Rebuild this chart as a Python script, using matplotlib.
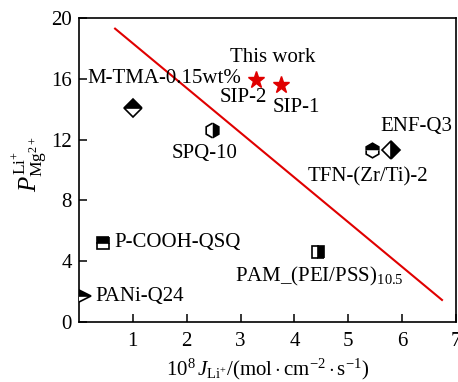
import matplotlib
matplotlib.use("Agg")
import matplotlib.pyplot as plt

plt.rcParams['font.family'] = ['Liberation Serif', 'DejaVu Serif']
plt.rcParams['mathtext.fontset'] = 'custom'
plt.rcParams['mathtext.rm'] = 'Liberation Serif'
plt.rcParams['mathtext.it'] = 'Liberation Serif:italic'
plt.rcParams['mathtext.bf'] = 'Liberation Serif:bold'

# Membranes: Li+ flux (1e-8 mol cm^-2 s^-1) vs Li+/Mg2+ selectivity
names = ['M-TMA-0.15wt%', 'SPQ-10', 'TFN-(Zr/Ti)-2', 'ENF-Q3',
         'P-COOH-QSQ', 'PAM_(PEI/PSS)10.5', 'PANi-Q24']
flux = [1.0, 2.47, 5.44, 5.8, 0.45, 4.44, 0.05]
selectivity = [14.1, 12.6, 11.3, 11.3, 5.2, 4.6, 1.7]
markers = ['D', 'h', 'h', 'D', 's', 's', '>']
fills = ['top', 'right', 'top', 'right', 'top', 'right', 'top']
sizes = [9, 10.5, 10.5, 9, 9, 9, 13]

# This work
work_names = ['SIP-2', 'SIP-1']
work_flux = [3.28, 3.75]
work_sel = [15.9, 15.6]

# Upper-bound trade-off line
bound_x = [0.67, 6.74]
bound_y = [19.3, 1.45]

x_ticks = [1, 2, 3, 4, 5, 6, 7]
y_ticks = [0, 4, 8, 12, 16, 20]

fig = plt.figure(figsize=(4.58, 3.82), dpi=100)
ax = fig.add_axes([79 / 458, 1 - 322 / 382, 377 / 458, 304 / 382])

ax.plot(bound_x, bound_y, color='#e00000', lw=1.5, zorder=2)

for x, y, m, f, s in zip(flux, selectivity, markers, fills, sizes):
    ax.plot(x, y, marker=m, ms=s, fillstyle=f, color='black',
            markerfacecoloralt='white', markeredgecolor='black',
            mew=1.2, ls='none', zorder=3)

ax.plot(work_flux, work_sel, marker='*', ms=12.5, color='#e00000',
        mec='#e00000', ls='none', zorder=3)

fs = 15
ax.text(0.15, 16.0, 'M-TMA-0.15wt%', fontsize=fs, ha='left', va='center')
ax.text(3.6, 17.4, 'This work', fontsize=fs, ha='center', va='center')
ax.text(3.05, 14.8, 'SIP-2', fontsize=fs, ha='center', va='center')
ax.text(4.03, 14.08, 'SIP-1', fontsize=fs, ha='center', va='center')
ax.text(2.34, 11.1, 'SPQ-10', fontsize=fs, ha='center', va='center')
ax.text(6.26, 12.83, 'ENF-Q3', fontsize=fs, ha='center', va='center')
ax.text(5.37, 9.54, 'TFN-(Zr/Ti)-2', fontsize=fs, ha='center', va='center')
ax.text(0.65, 5.26, 'P-COOH-QSQ', fontsize=fs, ha='left', va='center')
ax.text(2.9, 3.0, r'PAM_(PEI/PSS)$_{10.5}$', fontsize=fs, ha='left', va='center')
ax.text(0.3, 1.7, 'PANi-Q24', fontsize=fs, ha='left', va='center')

ax.set_xlim(0, 7)
ax.set_ylim(0, 20)
ax.set_xticks(x_ticks)
ax.set_yticks(y_ticks)
ax.tick_params(direction='in', length=6, width=1.1, labelsize=fs,
               top=False, right=False)
ax.tick_params(axis='x', pad=7)
ax.tick_params(axis='y', pad=5)
for sp in ax.spines.values():
    sp.set_linewidth(1.2)

ax.text(0.5, -0.155,
        r'$10^{8}\,J_{\mathrm{Li}^{+}}/(\mathrm{mol}\cdot\mathrm{cm}^{-2}\cdot\mathrm{s}^{-1})$',
        transform=ax.transAxes, fontsize=fs, ha='center', va='center')
ax.text(-0.13, 0.52, r'$P_{\mathrm{Mg}^{2+}}^{\mathrm{Li}^{+}}$',
        transform=ax.transAxes, fontsize=fs + 3, ha='center', va='center',
        rotation=90)

fig.savefig('out.png', dpi=100)
